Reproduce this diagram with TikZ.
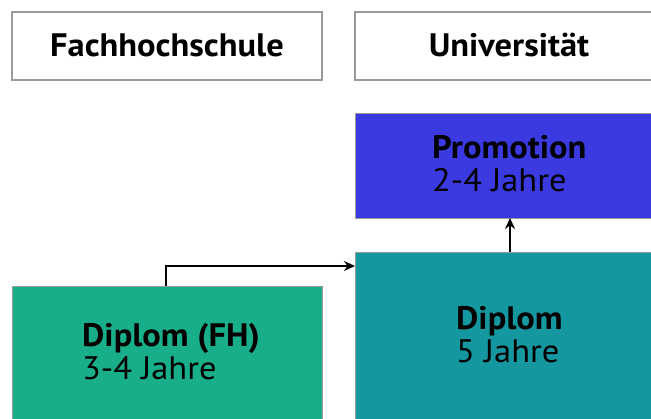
\documentclass[tikz,border=0pt]{standalone}
\usepackage{fontspec}
\setmainfont[FakeStretch=1.06]{PT Sans}
\usetikzlibrary{arrows.meta}
\definecolor{fhgreen}{HTML}{18AE8A}
\definecolor{uniteal}{HTML}{14979F}
\definecolor{promblue}{HTML}{3A3AE0}
\definecolor{edgegray}{HTML}{9A9A9A}
\begin{document}
\begin{tikzpicture}[x=1pt,y=-1pt,
  headbox/.style={draw=edgegray,line width=1.2pt,fill=white},
  colbox/.style={draw=edgegray,line width=0.8pt},
  lbl/.style={font=\fontsize{32.5}{33}\selectfont,anchor=base west,inner sep=0pt,text=black},
  conn/.style={line width=1.8pt,-{Stealth[length=11pt,width=10pt]}}]
\useasboundingbox (0,0) rectangle (651,419);
\path[headbox] (12,12) rectangle (322,80);
\path[headbox] (355,12) rectangle (660,80);
\node[lbl,anchor=base] (fh) at (167,57) {\bfseries Fachhochschule};
\node[lbl,anchor=base] (uni) at (509,57) {\bfseries Universität};
\path[colbox,fill=promblue] (355,113) rectangle (660,218);
\path[colbox,fill=uniteal] (355,252) rectangle (660,430);
\path[colbox,fill=fhgreen] (12,286) rectangle (322,430);
\node[lbl] (prom) at (432,159) {\bfseries Promotion};
\node[lbl] (promyrs) at (432,192) {2-4 Jahre};
\node[lbl] (dip) at (456,330) {\bfseries Diplom};
\node[lbl] (dipyrs) at (456,363) {5 Jahre};
\node[lbl] (dipfh) at (82,347) {\bfseries Diplom (FH)};
\node[lbl] (dipfhyrs) at (82,380) {3-4 Jahre};
\coordinate (fhtop) at (166,286);
\coordinate (unileft) at (355,266);
\coordinate (diptop) at (510,252);
\coordinate (prombot) at (510,218);
\draw[conn] (fhtop) |- (unileft);
\draw[conn] (diptop) -- (prombot);
\end{tikzpicture}
\end{document}
